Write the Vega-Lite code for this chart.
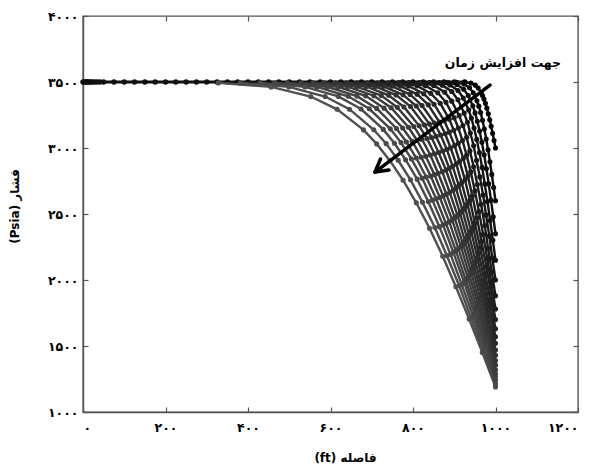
{
  "$schema": "https://vega.github.io/schema/vega-lite/v6.json",
  "width": 495,
  "height": 396,
  "autosize": "none",
  "padding": {"left": 83, "top": 16, "right": 13, "bottom": 55},
  "background": "white",
  "config": {
    "view": {"stroke": "#555555", "strokeWidth": 1.4},
    "axis": {
      "labelFont": "DejaVu Sans",
      "labelFontWeight": "bold",
      "labelFontSize": 12.5,
      "labelColor": "#000000",
      "titleFont": "DejaVu Sans",
      "titleFontWeight": "bold",
      "titleFontSize": 12,
      "titleColor": "#000000",
      "domainColor": "#555555",
      "domainWidth": 1.4,
      "tickColor": "#555555",
      "tickWidth": 1.2,
      "grid": false
    }
  },
  "datasets": {
    "curves": [
      {"c":21,"x":1000,"p":1190},{"c":21,"x":968,"p":1450},{"c":21,"x":936,"p":1704},{"c":21,"x":904,"p":1949},{"c":21,"x":872,"p":2180},{"c":21,"x":840,"p":2392},{"c":21,"x":808,"p":2585},{"c":21,"x":776,"p":2756},{"c":21,"x":744,"p":2904},{"c":21,"x":712,"p":3031},{"c":21,"x":680,"p":3137},{"c":21,"x":616,"p":3293},{"c":21,"x":552,"p":3390},{"c":21,"x":456,"p":3463},{"c":21,"x":328,"p":3493},
      {"c":20,"x":1000,"p":1200},{"c":20,"x":971,"p":1459},{"c":20,"x":941,"p":1712},{"c":20,"x":912,"p":1956},{"c":20,"x":882,"p":2185},{"c":20,"x":853,"p":2397},{"c":20,"x":823,"p":2589},{"c":20,"x":794,"p":2759},{"c":20,"x":764,"p":2907},{"c":20,"x":735,"p":3033},{"c":20,"x":705,"p":3138},{"c":20,"x":646,"p":3294},{"c":20,"x":587,"p":3390},{"c":20,"x":499,"p":3463},{"c":20,"x":381,"p":3493},
      {"c":19,"x":1000,"p":1215},{"c":19,"x":973,"p":1472},{"c":19,"x":946,"p":1724},{"c":19,"x":918,"p":1966},{"c":19,"x":891,"p":2194},{"c":19,"x":864,"p":2404},{"c":19,"x":837,"p":2595},{"c":19,"x":810,"p":2764},{"c":19,"x":782,"p":2911},{"c":19,"x":755,"p":3036},{"c":19,"x":728,"p":3141},{"c":19,"x":674,"p":3295},{"c":19,"x":619,"p":3391},{"c":19,"x":538,"p":3463},{"c":19,"x":429,"p":3493},
      {"c":18,"x":1000,"p":1240},{"c":18,"x":975,"p":1494},{"c":18,"x":949,"p":1743},{"c":18,"x":924,"p":1983},{"c":18,"x":898,"p":2208},{"c":18,"x":873,"p":2416},{"c":18,"x":847,"p":2605},{"c":18,"x":822,"p":2772},{"c":18,"x":796,"p":2917},{"c":18,"x":771,"p":3041},{"c":18,"x":745,"p":3145},{"c":18,"x":694,"p":3297},{"c":18,"x":643,"p":3392},{"c":18,"x":567,"p":3463},{"c":18,"x":465,"p":3493},
      {"c":17,"x":1000,"p":1265},{"c":17,"x":976,"p":1516},{"c":17,"x":952,"p":1763},{"c":17,"x":928,"p":1999},{"c":17,"x":904,"p":2222},{"c":17,"x":880,"p":2428},{"c":17,"x":856,"p":2615},{"c":17,"x":832,"p":2780},{"c":17,"x":808,"p":2924},{"c":17,"x":784,"p":3046},{"c":17,"x":760,"p":3148},{"c":17,"x":712,"p":3300},{"c":17,"x":664,"p":3393},{"c":17,"x":592,"p":3464},{"c":17,"x":496,"p":3493},
      {"c":16,"x":1000,"p":1290},{"c":16,"x":978,"p":1539},{"c":16,"x":955,"p":1782},{"c":16,"x":933,"p":2016},{"c":16,"x":910,"p":2237},{"c":16,"x":888,"p":2440},{"c":16,"x":865,"p":2625},{"c":16,"x":843,"p":2788},{"c":16,"x":820,"p":2930},{"c":16,"x":798,"p":3051},{"c":16,"x":775,"p":3152},{"c":16,"x":730,"p":3302},{"c":16,"x":685,"p":3395},{"c":16,"x":618,"p":3464},{"c":16,"x":528,"p":3493},
      {"c":15,"x":1000,"p":1320},{"c":15,"x":979,"p":1565},{"c":15,"x":958,"p":1806},{"c":15,"x":937,"p":2036},{"c":15,"x":916,"p":2254},{"c":15,"x":895,"p":2455},{"c":15,"x":873,"p":2637},{"c":15,"x":852,"p":2798},{"c":15,"x":831,"p":2938},{"c":15,"x":810,"p":3057},{"c":15,"x":789,"p":3157},{"c":15,"x":747,"p":3305},{"c":15,"x":705,"p":3396},{"c":15,"x":641,"p":3465},{"c":15,"x":557,"p":3494},
      {"c":14,"x":1000,"p":1355},{"c":14,"x":980,"p":1596},{"c":14,"x":960,"p":1833},{"c":14,"x":941,"p":2060},{"c":14,"x":921,"p":2274},{"c":14,"x":901,"p":2472},{"c":14,"x":881,"p":2650},{"c":14,"x":861,"p":2809},{"c":14,"x":842,"p":2947},{"c":14,"x":822,"p":3064},{"c":14,"x":802,"p":3163},{"c":14,"x":762,"p":3308},{"c":14,"x":723,"p":3398},{"c":14,"x":663,"p":3465},{"c":14,"x":584,"p":3494},
      {"c":13,"x":1000,"p":1390},{"c":13,"x":982,"p":1627},{"c":13,"x":963,"p":1860},{"c":13,"x":945,"p":2083},{"c":13,"x":926,"p":2294},{"c":13,"x":908,"p":2488},{"c":13,"x":889,"p":2664},{"c":13,"x":871,"p":2820},{"c":13,"x":852,"p":2956},{"c":13,"x":834,"p":3072},{"c":13,"x":815,"p":3168},{"c":13,"x":778,"p":3311},{"c":13,"x":741,"p":3399},{"c":13,"x":686,"p":3466},{"c":13,"x":612,"p":3494},
      {"c":12,"x":1000,"p":1430},{"c":12,"x":983,"p":1663},{"c":12,"x":966,"p":1891},{"c":12,"x":948,"p":2110},{"c":12,"x":931,"p":2317},{"c":12,"x":914,"p":2507},{"c":12,"x":897,"p":2680},{"c":12,"x":880,"p":2833},{"c":12,"x":862,"p":2966},{"c":12,"x":845,"p":3080},{"c":12,"x":828,"p":3174},{"c":12,"x":794,"p":3314},{"c":12,"x":759,"p":3401},{"c":12,"x":708,"p":3466},{"c":12,"x":639,"p":3494},
      {"c":11,"x":1000,"p":1470},{"c":11,"x":984,"p":1698},{"c":11,"x":968,"p":1922},{"c":11,"x":952,"p":2137},{"c":11,"x":936,"p":2340},{"c":11,"x":920,"p":2527},{"c":11,"x":904,"p":2696},{"c":11,"x":888,"p":2846},{"c":11,"x":872,"p":2977},{"c":11,"x":856,"p":3088},{"c":11,"x":840,"p":3181},{"c":11,"x":808,"p":3318},{"c":11,"x":776,"p":3403},{"c":11,"x":728,"p":3467},{"c":11,"x":664,"p":3494},
      {"c":10,"x":1000,"p":1520},{"c":10,"x":985,"p":1743},{"c":10,"x":970,"p":1961},{"c":10,"x":956,"p":2171},{"c":10,"x":941,"p":2368},{"c":10,"x":926,"p":2551},{"c":10,"x":911,"p":2716},{"c":10,"x":896,"p":2862},{"c":10,"x":882,"p":2989},{"c":10,"x":867,"p":3098},{"c":10,"x":852,"p":3189},{"c":10,"x":822,"p":3322},{"c":10,"x":793,"p":3406},{"c":10,"x":748,"p":3468},{"c":10,"x":689,"p":3494},
      {"c":9,"x":1000,"p":1570},{"c":9,"x":986,"p":1787},{"c":9,"x":973,"p":2000},{"c":9,"x":959,"p":2204},{"c":9,"x":946,"p":2397},{"c":9,"x":932,"p":2575},{"c":9,"x":918,"p":2736},{"c":9,"x":905,"p":2878},{"c":9,"x":891,"p":3002},{"c":9,"x":878,"p":3108},{"c":9,"x":864,"p":3196},{"c":9,"x":837,"p":3327},{"c":9,"x":810,"p":3408},{"c":9,"x":769,"p":3469},{"c":9,"x":714,"p":3494},
      {"c":8,"x":1000,"p":1630},{"c":8,"x":988,"p":1840},{"c":8,"x":975,"p":2046},{"c":8,"x":963,"p":2245},{"c":8,"x":950,"p":2431},{"c":8,"x":938,"p":2603},{"c":8,"x":926,"p":2759},{"c":8,"x":913,"p":2898},{"c":8,"x":901,"p":3018},{"c":8,"x":888,"p":3120},{"c":8,"x":876,"p":3206},{"c":8,"x":851,"p":3332},{"c":8,"x":826,"p":3411},{"c":8,"x":789,"p":3470},{"c":8,"x":740,"p":3494},
      {"c":7,"x":1000,"p":1700},{"c":7,"x":989,"p":1903},{"c":7,"x":978,"p":2101},{"c":7,"x":966,"p":2292},{"c":7,"x":955,"p":2471},{"c":7,"x":944,"p":2637},{"c":7,"x":933,"p":2787},{"c":7,"x":922,"p":2920},{"c":7,"x":910,"p":3036},{"c":7,"x":899,"p":3134},{"c":7,"x":888,"p":3217},{"c":7,"x":866,"p":3339},{"c":7,"x":843,"p":3414},{"c":7,"x":810,"p":3471},{"c":7,"x":765,"p":3495},
      {"c":6,"x":1000,"p":1780},{"c":6,"x":990,"p":1974},{"c":6,"x":980,"p":2163},{"c":6,"x":970,"p":2345},{"c":6,"x":960,"p":2517},{"c":6,"x":950,"p":2675},{"c":6,"x":940,"p":2819},{"c":6,"x":930,"p":2946},{"c":6,"x":920,"p":3056},{"c":6,"x":910,"p":3151},{"c":6,"x":900,"p":3229},{"c":6,"x":880,"p":3346},{"c":6,"x":860,"p":3418},{"c":6,"x":830,"p":3472},{"c":6,"x":790,"p":3495},
      {"c":5,"x":1000,"p":1880},{"c":5,"x":991,"p":2062},{"c":5,"x":982,"p":2241},{"c":5,"x":974,"p":2412},{"c":5,"x":965,"p":2574},{"c":5,"x":956,"p":2723},{"c":5,"x":947,"p":2858},{"c":5,"x":938,"p":2978},{"c":5,"x":930,"p":3082},{"c":5,"x":921,"p":3171},{"c":5,"x":912,"p":3245},{"c":5,"x":894,"p":3355},{"c":5,"x":877,"p":3423},{"c":5,"x":850,"p":3474},{"c":5,"x":815,"p":3495},
      {"c":4,"x":1000,"p":2000},{"c":4,"x":992,"p":2169},{"c":4,"x":985,"p":2334},{"c":4,"x":977,"p":2493},{"c":4,"x":970,"p":2643},{"c":4,"x":962,"p":2781},{"c":4,"x":954,"p":2906},{"c":4,"x":947,"p":3017},{"c":4,"x":939,"p":3113},{"c":4,"x":932,"p":3195},{"c":4,"x":924,"p":3264},{"c":4,"x":909,"p":3365},{"c":4,"x":894,"p":3428},{"c":4,"x":871,"p":3476},{"c":4,"x":840,"p":3496},
      {"c":3,"x":1000,"p":2150},{"c":3,"x":993.5,"p":2302},{"c":3,"x":987,"p":2451},{"c":3,"x":980.5,"p":2594},{"c":3,"x":974,"p":2728},{"c":3,"x":967.5,"p":2853},{"c":3,"x":961,"p":2965},{"c":3,"x":954.5,"p":3065},{"c":3,"x":948,"p":3152},{"c":3,"x":941.5,"p":3226},{"c":3,"x":935,"p":3288},{"c":3,"x":922,"p":3379},{"c":3,"x":909,"p":3436},{"c":3,"x":889.5,"p":3478},{"c":3,"x":863.5,"p":3496},
      {"c":2,"x":1000,"p":2350},{"c":2,"x":994.5,"p":2479},{"c":2,"x":989,"p":2606},{"c":2,"x":983.5,"p":2728},{"c":2,"x":978,"p":2843},{"c":2,"x":972.5,"p":2949},{"c":2,"x":967,"p":3044},{"c":2,"x":961.5,"p":3129},{"c":2,"x":956,"p":3203},{"c":2,"x":950.5,"p":3266},{"c":2,"x":945,"p":3319},{"c":2,"x":934,"p":3397},{"c":2,"x":923,"p":3445},{"c":2,"x":906.5,"p":3481},{"c":2,"x":884.5,"p":3497},
      {"c":1,"x":1000,"p":2600},{"c":1,"x":995.5,"p":2701},{"c":1,"x":991,"p":2800},{"c":1,"x":986.5,"p":2896},{"c":1,"x":982,"p":2986},{"c":1,"x":977.5,"p":3068},{"c":1,"x":973,"p":3144},{"c":1,"x":968.5,"p":3210},{"c":1,"x":964,"p":3268},{"c":1,"x":959.5,"p":3317},{"c":1,"x":955,"p":3358},{"c":1,"x":946,"p":3419},{"c":1,"x":937,"p":3457},{"c":1,"x":923.5,"p":3485},{"c":1,"x":905.5,"p":3497},
      {"c":0,"x":1000,"p":3000},{"c":0,"x":996.5,"p":3056},{"c":0,"x":993,"p":3111},{"c":0,"x":989.5,"p":3164},{"c":0,"x":986,"p":3214},{"c":0,"x":982.5,"p":3260},{"c":0,"x":979,"p":3302},{"c":0,"x":975.5,"p":3339},{"c":0,"x":972,"p":3371},{"c":0,"x":968.5,"p":3398},{"c":0,"x":965,"p":3421},{"c":0,"x":958,"p":3455},{"c":0,"x":951,"p":3476},{"c":0,"x":940.5,"p":3492},{"c":0,"x":926.5,"p":3498}
    ],
    "flat": [
      {"x":0,"p":3500},{"x":3,"p":3500},{"x":6,"p":3500},{"x":9,"p":3500},{"x":12,"p":3500},{"x":15,"p":3500},{"x":19,"p":3500},{"x":23,"p":3500},{"x":28,"p":3500},{"x":34,"p":3500},{"x":41,"p":3500},{"x":50,"p":3500},{"x":75,"p":3500},{"x":100,"p":3500},{"x":125,"p":3500},{"x":150,"p":3500},{"x":175,"p":3500},{"x":200,"p":3500},{"x":225,"p":3500},{"x":250,"p":3500},{"x":275,"p":3500},{"x":300,"p":3500},{"x":325,"p":3500},{"x":350,"p":3500},{"x":375,"p":3500},{"x":400,"p":3500},{"x":425,"p":3500},{"x":450,"p":3500},{"x":475,"p":3500},{"x":500,"p":3500},{"x":525,"p":3500},{"x":550,"p":3500},{"x":575,"p":3500},{"x":600,"p":3500},{"x":625,"p":3500},{"x":650,"p":3500},{"x":675,"p":3500},{"x":700,"p":3500},{"x":725,"p":3500},{"x":750,"p":3500},{"x":775,"p":3500},{"x":800,"p":3500},{"x":825,"p":3500},{"x":850,"p":3500},{"x":875,"p":3500},{"x":900,"p":3500},{"x":925,"p":3500}
    ],
    "arrow": [
      {"x":986.7,"p":3477,"x2":708,"p2":2818},
      {"x":708,"p":2818,"x2":741.8,"p2":2833},
      {"x":708,"p":2818,"x2":721.2,"p2":2917}
    ],
    "note": [
      {"x":1018,"p":3644,"t":"جهت افزایش زمان"}
    ]
  },
  "resolve": {"axis": {"x": "independent", "y": "independent"}},
  "layer": [
    {
      "data": {"name": "flat"},
      "mark": {"type": "line", "color": "#111111", "strokeWidth": 3},
      "encoding": {
        "x": {"field": "x", "type": "quantitative", "scale": {"domain": [0, 1200], "nice": false},
          "axis": {"orient": "top", "labels": false, "title": null, "tickSize": -5, "values": [0,200,400,600,800,1000,1200], "domain": false}},
        "y": {"field": "p", "type": "quantitative", "scale": {"domain": [1000, 4000], "nice": false, "zero": false},
          "axis": {"orient": "right", "labels": false, "title": null, "tickSize": -5, "values": [1000,1500,2000,2500,3000,3500,4000], "domain": false}}
      }
    },
    {
      "data": {"name": "flat"},
      "mark": {"type": "point", "filled": true, "color": "#111111", "size": 30, "opacity": 1},
      "encoding": {
        "x": {"field": "x", "type": "quantitative", "axis": null},
        "y": {"field": "p", "type": "quantitative", "axis": null}
      }
    },
    {
      "data": {"name": "curves"},
      "mark": {"type": "line", "strokeWidth": 2.4},
      "encoding": {
        "x": {"field": "x", "type": "quantitative", "scale": {"domain": [0, 1200], "nice": false},
          "axis": {"orient": "bottom", "title": "(ft) فاصله", "tickSize": -5, "labelPadding": 14, "values": [0,200,400,600,800,1000,1200],
            "titleX": 262, "titleY": 45, "titleBaseline": "middle",
            "labelExpr": "replace(replace(replace(replace(replace(replace(replace(replace(replace(replace(format(datum.value,'d'),regexp('0','g'),'۰'),regexp('1','g'),'۱'),regexp('2','g'),'۲'),regexp('3','g'),'۳'),regexp('4','g'),'۴'),regexp('5','g'),'۵'),regexp('6','g'),'۶'),regexp('7','g'),'۷'),regexp('8','g'),'۸'),regexp('9','g'),'۹')"}},
        "y": {"field": "p", "type": "quantitative", "scale": {"domain": [1000, 4000], "nice": false, "zero": false},
          "axis": {"orient": "left", "title": "(Psia) فشار", "tickSize": -5, "labelPadding": 10, "values": [1000,1500,2000,2500,3000,3500,4000],
            "titleX": -62, "titleY": 190, "titleAngle": -90,
            "labelExpr": "replace(replace(replace(replace(replace(replace(replace(replace(replace(replace(format(datum.value,'d'),regexp('0','g'),'۰'),regexp('1','g'),'۱'),regexp('2','g'),'۲'),regexp('3','g'),'۳'),regexp('4','g'),'۴'),regexp('5','g'),'۵'),regexp('6','g'),'۶'),regexp('7','g'),'۷'),regexp('8','g'),'۸'),regexp('9','g'),'۹')"}},
        "detail": {"field": "c", "type": "nominal"},
        "order": {"field": "x", "type": "quantitative"},
        "color": {"field": "c", "type": "quantitative", "scale": {"domain": [0, 21], "range": ["#050505", "#505050"]}, "legend": null}
      }
    },
    {
      "data": {"name": "curves"},
      "mark": {"type": "point", "filled": true, "size": 26, "opacity": 1},
      "encoding": {
        "x": {"field": "x", "type": "quantitative", "axis": null},
        "y": {"field": "p", "type": "quantitative", "axis": null},
        "color": {"field": "c", "type": "quantitative", "scale": {"domain": [0, 21], "range": ["#050505", "#505050"]}, "legend": null}
      }
    },
    {
      "data": {"name": "arrow"},
      "mark": {"type": "rule", "color": "#000000", "strokeWidth": 3.5, "strokeCap": "round"},
      "encoding": {
        "x": {"field": "x", "type": "quantitative", "axis": null},
        "y": {"field": "p", "type": "quantitative", "axis": null},
        "x2": {"field": "x2"},
        "y2": {"field": "p2"}
      }
    },
    {
      "data": {"name": "note"},
      "mark": {"type": "text", "font": "DejaVu Sans", "fontWeight": "bold", "fontSize": 12.5, "color": "#000000", "align": "center", "baseline": "middle"},
      "encoding": {
        "x": {"field": "x", "type": "quantitative", "axis": null},
        "y": {"field": "p", "type": "quantitative", "axis": null},
        "text": {"field": "t"}
      }
    }
  ]
}
